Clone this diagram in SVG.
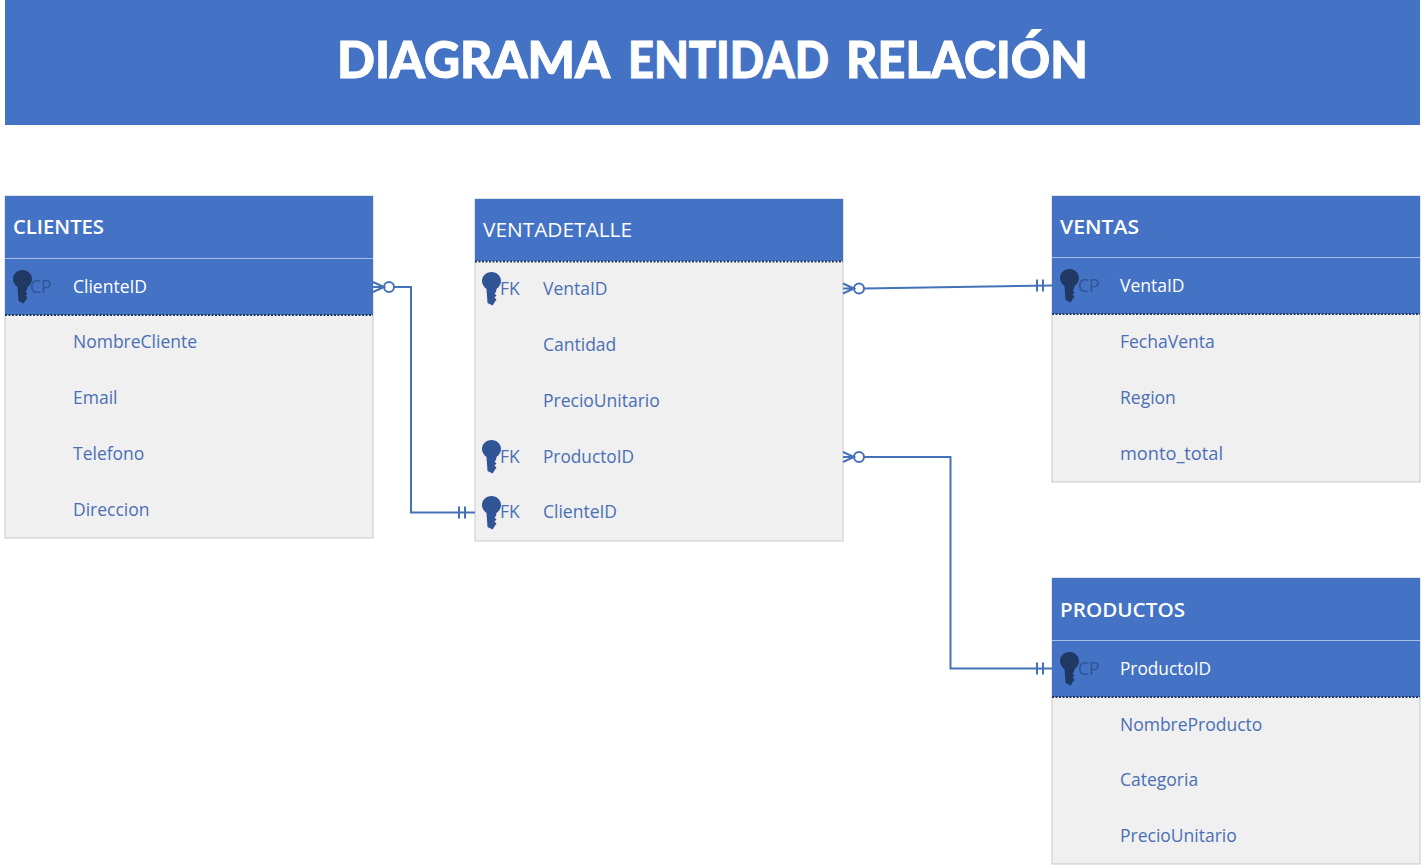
<svg xmlns="http://www.w3.org/2000/svg" width="1422" height="865" viewBox="0 0 1422 865">
<style>
text{font-family:"Open Sans","Noto Sans","Liberation Sans",sans-serif}
.body{fill:#f0f0f0;stroke:#c9c9c9;stroke-width:1}
.head{fill:#4472c4}
.sep{stroke:#a9bde3;stroke-width:1}
.dash{stroke:#1f3864;stroke-width:2;stroke-dasharray:2 1.500}
.tn{font-size:20px;fill:#fff;font-weight:600}
.tv{font-size:20.500px;fill:#fff}
.f{font-size:17.500px;fill:#4a6fb5}
.fw{font-size:17.500px;fill:#fff}
.kl{font-size:17.500px;fill:#4a6fb5}
.klp{font-size:17.500px;fill:#2f5597}
.c{fill:none;stroke:#4472b8;stroke-width:2}
.c1{fill:none;stroke:#4472b8;stroke-width:2}
.title{font-family:"Lato","Liberation Sans",sans-serif;font-size:51px;font-weight:900;fill:#fff;stroke:#fff;stroke-width:1}
</style>
<defs>
<path id="key" d="M0 0C5.500 0 9.500 4 9.500 9C9.500 12.500 7.500 15 5 17L4.500 20L3 21.500L5 23.500L3 25.500L5 27.500L1 33.500L-4 31L-4.500 24L-5 17C-7.500 15 -9.500 12.500 -9.500 9C-9.500 4 -5.500 0 0 0Z"/>
</defs>
<rect id="banner" x="5" y="0" width="1415" height="125" fill="#4472c4"/>
<text class="title" x="337" y="78" textLength="273" lengthAdjust="spacingAndGlyphs">DIAGRAMA</text>
<text class="title" x="628" y="78" textLength="201" lengthAdjust="spacingAndGlyphs">ENTIDAD</text>
<text class="title" x="846" y="78" textLength="242" lengthAdjust="spacingAndGlyphs">RELACIÓN</text>

<g id="clientes">
<rect class="body" x="5" y="196" width="368" height="342"/>
<rect class="head" x="5" y="196" width="368" height="119"/>
<line class="sep" x1="5" y1="258.500" x2="373" y2="258.500"/>
<line class="dash" x1="5" y1="315" x2="373" y2="315"/>
<text class="tn" x="13" y="233.500" textLength="91" lengthAdjust="spacingAndGlyphs">CLIENTES</text>
<use href="#key" x="22.500" y="270" fill="#1f3864"/>
<text class="klp" x="30" y="293">CP</text>
<text class="fw" x="73" y="293">ClienteID</text>
<text class="f" x="73" y="348">NombreCliente</text>
<text class="f" x="73" y="404">Email</text>
<text class="f" x="73" y="460">Telefono</text>
<text class="f" x="73" y="516">Direccion</text>
</g>

<g id="ventadetalle">
<rect class="body" x="475" y="199" width="368" height="342"/>
<rect class="head" x="475" y="199" width="368" height="62"/>
<line class="dash" x1="475" y1="261.500" x2="843" y2="261.500"/>
<text class="tv" x="483" y="236.500" textLength="149" lengthAdjust="spacingAndGlyphs">VENTADETALLE</text>
<use href="#key" x="491.500" y="272" fill="#2f5597"/>
<text class="kl" x="500" y="295">FK</text>
<text class="f" x="543" y="295">VentaID</text>
<text class="f" x="543" y="351">Cantidad</text>
<text class="f" x="543" y="407">PrecioUnitario</text>
<use href="#key" x="491.500" y="440" fill="#2f5597"/>
<text class="kl" x="500" y="463">FK</text>
<text class="f" x="543" y="463" textLength="91" lengthAdjust="spacingAndGlyphs">ProductoID</text>
<use href="#key" x="491.500" y="496" fill="#2f5597"/>
<text class="kl" x="500" y="518">FK</text>
<text class="f" x="543" y="518">ClienteID</text>
</g>

<g id="ventas">
<rect class="body" x="1052" y="196" width="368" height="286"/>
<rect class="head" x="1052" y="196" width="368" height="118"/>
<line class="sep" x1="1052" y1="257.500" x2="1420" y2="257.500"/>
<line class="dash" x1="1052" y1="314" x2="1420" y2="314"/>
<text class="tn" x="1060" y="233.500" textLength="79" lengthAdjust="spacingAndGlyphs">VENTAS</text>
<use href="#key" x="1069.500" y="269" fill="#1f3864"/>
<text class="klp" x="1078" y="292">CP</text>
<text class="fw" x="1120" y="292">VentaID</text>
<text class="f" x="1120" y="348">FechaVenta</text>
<text class="f" x="1120" y="404">Region</text>
<text class="f" x="1120" y="460" textLength="103" lengthAdjust="spacingAndGlyphs">monto_total</text>
</g>

<g id="productos">
<rect class="body" x="1052" y="578" width="368" height="286"/>
<rect class="head" x="1052" y="578" width="368" height="119"/>
<line class="sep" x1="1052" y1="640.500" x2="1420" y2="640.500"/>
<line class="dash" x1="1052" y1="697" x2="1420" y2="697"/>
<text class="tn" x="1060" y="616.500" textLength="125" lengthAdjust="spacingAndGlyphs">PRODUCTOS</text>
<use href="#key" x="1069.500" y="652" fill="#1f3864"/>
<text class="klp" x="1078" y="675">CP</text>
<text class="fw" x="1120" y="675" textLength="91" lengthAdjust="spacingAndGlyphs">ProductoID</text>
<text class="f" x="1120" y="731">NombreProducto</text>
<text class="f" x="1120" y="786">Categoria</text>
<text class="f" x="1120" y="842">PrecioUnitario</text>
</g>

<g id="connectors">
<path class="c" d="M394 287H411V512.500H475"/>
<path class="c1" d="M373 282L384 287L373 292M373 287H384"/>
<circle class="c" cx="389" cy="287" r="5"/>
<path class="c1" d="M459 506.500V518.500M465 506.500V518.500"/>

<path class="c" d="M864 288.500L1052 285.500"/>
<path class="c1" d="M843 283.500L854 288.500L843 293.500M843 288.500H854"/>
<circle class="c" cx="859" cy="288.500" r="5"/>
<path class="c1" d="M1037 279.500V291.500M1043 279.500V291.500"/>

<path class="c" d="M864 457H950.500V668.500H1052"/>
<path class="c1" d="M843 452L854 457L843 462M843 457H854"/>
<circle class="c" cx="859" cy="457" r="5"/>
<path class="c1" d="M1037 662.500V674.500M1043 662.500V674.500"/>
</g>
</svg>
